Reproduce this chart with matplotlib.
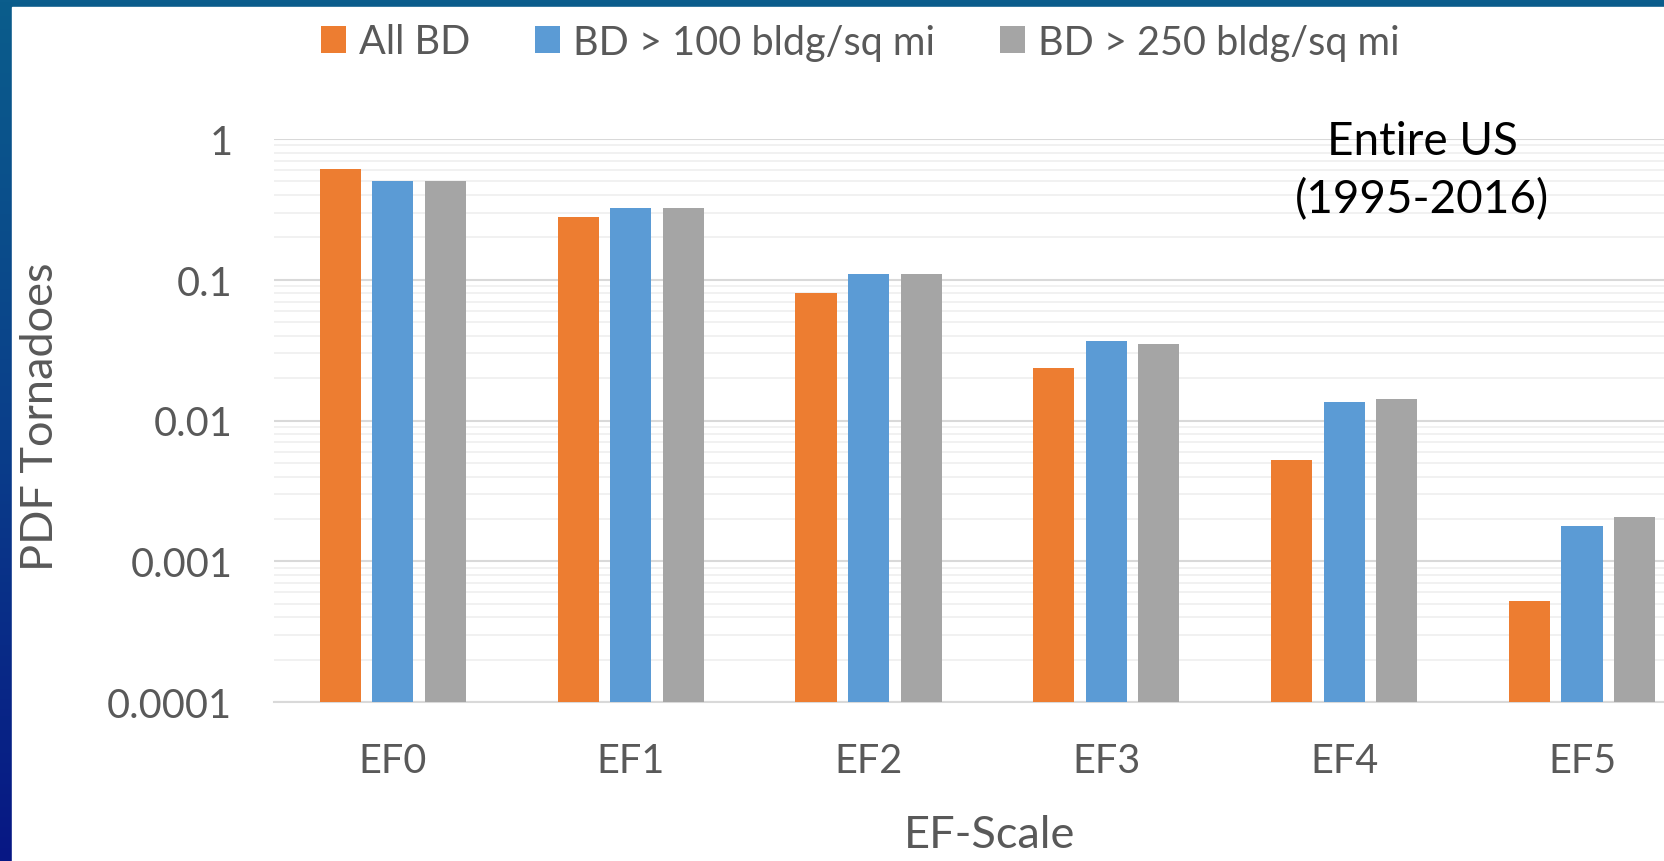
import numpy as np
import matplotlib
matplotlib.use("Agg")
import matplotlib.pyplot as plt
from matplotlib.colors import LinearSegmentedColormap
from matplotlib.patches import Rectangle
from matplotlib.ticker import LogLocator, NullFormatter, FixedLocator, FixedFormatter

plt.rcParams['font.family'] = ['Lato', 'DejaVu Sans']

# data
categories = ["EF0", "EF1", "EF2", "EF3", "EF4", "EF5"]
all_bd = [0.61, 0.277, 0.0805, 0.0237, 0.00523, 0.00052]
bd_100 = [0.50, 0.324, 0.110, 0.0366, 0.0135, 0.00177]
bd_250 = [0.50, 0.324, 0.110, 0.0350, 0.0141, 0.00207]
series_names = ["All BD", "BD > 100 bldg/sq mi", "BD > 250 bldg/sq mi"]
y_ticks = [1e-4, 1e-3, 1e-2, 1e-1, 1]
y_tick_labels = ["0.0001", "0.001", "0.01", "0.1", "1"]

colors = ["#ED7D31", "#5B9BD5", "#A5A5A5"]
text_gray = "#595959"

W, H = 1665, 862
fig = plt.figure(figsize=(W / 100, H / 100), dpi=100)

# slide background: blue gradient strip at the left/top, white content area
bg = fig.add_axes([0, 0, 1, 1], zorder=-10)
bg.axis('off')
cmap = LinearSegmentedColormap.from_list("slide", ["#0B5D8C", "#0A3F8A", "#071784"])
bg.imshow(np.linspace(0, 1, 256).reshape(-1, 1), aspect='auto', cmap=cmap,
          extent=[0, 1, 0, 1])
bg.add_patch(Rectangle((12 / W, 0), 1, 1 - 8 / H, color='white', transform=bg.transAxes))
bg.set_xlim(0, 1)
bg.set_ylim(0, 1)

# plot area
ax = fig.add_axes([274 / W, 1 - 703 / H, 1 - 274 / W, (703 - 140) / H])
ax.set_facecolor('white')

x = np.arange(len(categories))
step = 0.221
width = 0.1725
bars = []
for i, vals in enumerate([all_bd, bd_100, bd_250]):
    b = ax.bar(x + (i - 1) * step, vals, width, color=colors[i], label=series_names[i], zorder=3)
    bars.append(b)

ax.set_yscale('log')
ax.set_ylim(1e-4, 1)
ax.set_xlim(-0.5, 5.349)

ax.yaxis.set_major_locator(FixedLocator(y_ticks))
ax.yaxis.set_major_formatter(FixedFormatter(y_tick_labels))
ax.yaxis.set_minor_locator(LogLocator(base=10, subs=np.arange(2, 10)))
ax.yaxis.set_minor_formatter(NullFormatter())
ax.grid(True, which='major', axis='y', color='#D9D9D9', linewidth=1.5, zorder=0)
ax.grid(True, which='minor', axis='y', color='#F0F0F0', linewidth=1.3, zorder=0)
ax.set_axisbelow(True)

ax.set_xticks(x)
ax.set_xticklabels(categories)
ax.tick_params(axis='both', which='both', length=0, colors=text_gray, labelsize=28.5)
ax.tick_params(axis='y', pad=30)
ax.tick_params(axis='x', pad=29)

for s in ['top', 'right', 'left']:
    ax.spines[s].set_visible(False)
ax.spines['bottom'].set_color('#D9D9D9')
ax.spines['bottom'].set_linewidth(1.5)

# axis titles
fig.text(990 / W, 1 - 836 / H, "EF-Scale", ha='center', va='center',
         fontsize=32.5, color=text_gray)
fig.text(41 / W, 1 - 417 / H, "PDF Tornadoes", ha='center', va='center',
         rotation=90, fontsize=32.5, color=text_gray)

# annotation
fig.text(1422 / W, 1 - 171 / H, "Entire US\n(1995-2016)", ha='center', va='center',
         multialignment='center', fontsize=33, color='black', linespacing=1.45)

# legend
leg = fig.legend(handles=bars, labels=series_names, loc='center', ncol=3,
                 bbox_to_anchor=(860 / W, 1 - 43 / H), frameon=False,
                 fontsize=28.5, handlelength=0.63, handleheight=0.66,
                 handletextpad=0.33, columnspacing=1.64, borderaxespad=0)
for t in leg.get_texts():
    t.set_color(text_gray)

fig.savefig("out.png", dpi=100)
